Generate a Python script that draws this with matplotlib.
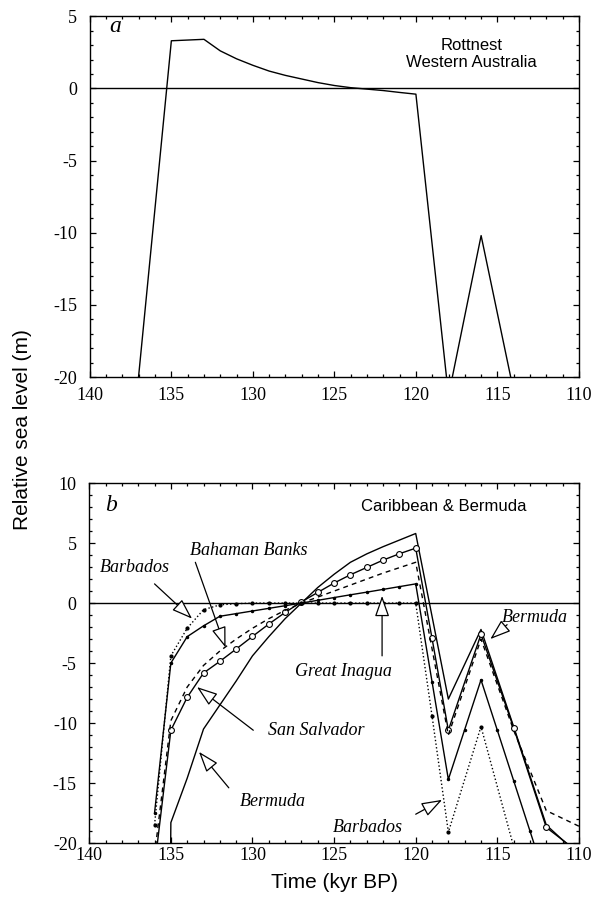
import matplotlib
matplotlib.use('Agg')
import matplotlib.pyplot as plt
from matplotlib.ticker import MultipleLocator

plt.rcParams['axes.unicode_minus'] = False

# panel a: Rottnest, Western Australia
rott_t = [137.1, 135, 133, 132, 131, 130, 129, 128, 127, 126, 125, 124, 123, 122, 121, 120, 118, 116, 114]
rott_y = [-21, 3.3, 3.4, 2.6, 2.05, 1.6, 1.2, 0.9, 0.65, 0.4, 0.2, 0.05, -0.05, -0.15, -0.28, -0.4, -21.3, -10.2, -21]

# panel b: Caribbean & Bermuda
berm_t = [135.05, 135, 134, 133, 132, 131, 130, 129, 128, 127, 126, 125, 124, 123, 122, 121, 120, 118, 116, 114, 112, 110]
berm_y = [-26, -18.3, -14.6, -10.5, -8.5, -6.5, -4.4, -2.8, -1.3, 0.0, 1.3, 2.4, 3.4, 4.1, 4.7, 5.25, 5.8, -8.0, -2.2, -10.3, -18.5, -21]

ss_t = [136, 135, 134, 133, 132, 131, 130, 129, 128, 127, 126, 125, 124, 123, 122, 121, 120, 119, 118, 116, 114, 112, 110]
ss_y = [-22, -10.6, -7.86, -5.83, -4.86, -3.83, -2.78, -1.75, -0.78, 0.1, 0.89, 1.67, 2.36, 2.97, 3.58, 4.11, 4.58,
        -2.94, -10.6, -2.6, -10.4, -18.7, -20.8]

bah_t = [136, 135, 134, 133, 132, 131, 130, 129, 128, 127, 126, 125, 124, 123, 122, 121, 120, 119, 118, 116, 114, 112, 110]
bah_y = [-21, -9.8, -7.0, -5.2, -4.0, -3.0, -2.1, -1.3, -0.6, 0.0, 0.5, 1.0, 1.5, 2.0, 2.5, 2.95, 3.4,
         -3.8, -11.0, -3.0, -10.6, -17.3, -18.6]

gi_t = [136, 135, 134, 133, 132, 131, 130, 129, 128, 127, 126, 125, 124, 123, 122, 121, 120,
        119, 118, 117, 116, 115, 114, 113, 112]
gi_y = [-17.5, -5.0, -2.8, -1.9, -1.1, -0.88, -0.66, -0.44, -0.22, 0.0, 0.23, 0.46, 0.69, 0.91, 1.14, 1.37, 1.6,
        -6.55, -14.7, -10.55, -6.4, -10.6, -14.8, -19.0, -23.2]

barb_t = [136, 135, 134, 133, 132, 131, 130, 129, 128, 127, 126, 125, 124, 123, 122, 121, 120, 119, 118, 116, 114]
barb_y = [-18.5, -4.4, -2.1, -0.55, -0.15, -0.05, 0, 0, 0, 0, 0, 0, 0, 0, 0, 0, 0, -9.4, -19.1, -10.3, -20.3]

SERIF = 'Liberation Serif'
SANS = 'Liberation Sans'


def style_axis(ax, ymin, ymax, xpad):
    ax.set_xlim(140, 110)
    ax.set_ylim(ymin, ymax)
    ax.xaxis.set_major_locator(MultipleLocator(5))
    ax.xaxis.set_minor_locator(MultipleLocator(1))
    ax.yaxis.set_major_locator(MultipleLocator(5))
    ax.yaxis.set_minor_locator(MultipleLocator(1))
    ax.tick_params(which='both', direction='in', top=True, right=True, width=0.9)
    ax.tick_params(which='major', length=4)
    ax.tick_params(which='minor', length=2)
    ax.tick_params(axis='y', pad=9)
    ax.tick_params(axis='x', pad=xpad)
    for lab in ax.get_xticklabels() + ax.get_yticklabels():
        lab.set_fontfamily(SERIF)
        lab.set_fontsize(13)
    for sp in ax.spines.values():
        sp.set_linewidth(1.0)
    ax.axhline(0, color='black', lw=1.0)


def note(ax, xytext, xy):
    ax.annotate('', xy=xy, xytext=xytext,
                arrowprops=dict(arrowstyle='-|>,head_length=0.8,head_width=0.28',
                                fc='white', ec='black', lw=0.9,
                                mutation_scale=16, shrinkA=0, shrinkB=0))


fig = plt.figure(figsize=(5.95, 9.02), dpi=100)
ax_a = fig.add_axes([0.151, 0.582, 0.822, 0.400])
ax_b = fig.add_axes([0.150, 0.0654, 0.823, 0.399])

# panel a
ax_a.plot(rott_t, rott_y, color='black', lw=1.0)
style_axis(ax_a, -20, 5, 7)
ax_a.text(138.8, 4.3, 'a', family=SERIF, style='italic', fontsize=17, va='center', ha='left')
ax_a.text(116.6, 2.4, 'Rottnest\nWestern Australia', family=SANS, fontsize=12,
          ha='center', va='center', linespacing=1.15)

# panel b
ax_b.plot(berm_t, berm_y, color='black', lw=1.0)
ax_b.plot(ss_t, ss_y, color='black', lw=1.0, marker='o', ms=4.2, mfc='white', mew=0.8,
          markevery=list(range(1, len(ss_t) - 1)))
ax_b.plot(bah_t, bah_y, color='black', lw=1.0, dashes=(3.5, 3))
ax_b.plot(gi_t, gi_y, color='black', lw=1.0, marker='.', ms=3)
ax_b.plot(barb_t, barb_y, color='black', lw=1.0, ls=':', marker='.', ms=4)
style_axis(ax_b, -20, 10, 3)
ax_b.text(139.0, 8.1, 'b', family=SERIF, style='italic', fontsize=17, va='center', ha='left')
ax_b.text(118.3, 8.05, 'Caribbean & Bermuda', family=SANS, fontsize=12, ha='center', va='center')

ann = dict(family=SERIF, style='italic', fontsize=13, ha='center', va='center')
ax_b.text(137.2, 3.0, 'Barbados', **ann)
note(ax_b, (136.0, 1.6), (133.7, -1.3))
ax_b.text(130.2, 4.4, 'Bahaman Banks', **ann)
note(ax_b, (133.5, 3.4), (131.65, -3.7))
ax_b.text(124.4, -5.7, 'Great Inagua', **ann)
note(ax_b, (122.06, -4.4), (122.06, 0.6))
ax_b.text(126.1, -10.6, 'San Salvador', **ann)
note(ax_b, (129.95, -10.6), (133.4, -7.0))
ax_b.text(128.75, -16.5, 'Bermuda', **ann)
note(ax_b, (131.45, -15.4), (133.28, -12.4))
ax_b.text(122.94, -18.7, 'Barbados', **ann)
note(ax_b, (120.0, -17.6), (118.38, -16.4))
ax_b.text(112.7, -1.2, 'Bermuda', **ann)
note(ax_b, (114.4, -1.8), (115.43, -3.0))

ax_b.set_xlabel('Time (kyr BP)', family=SANS, fontsize=15, labelpad=6)
fig.text(0.037, 0.524, 'Relative sea level (m)', family=SANS, fontsize=15,
         rotation=90, ha='center', va='center')

fig.savefig('out.png', dpi=100)
